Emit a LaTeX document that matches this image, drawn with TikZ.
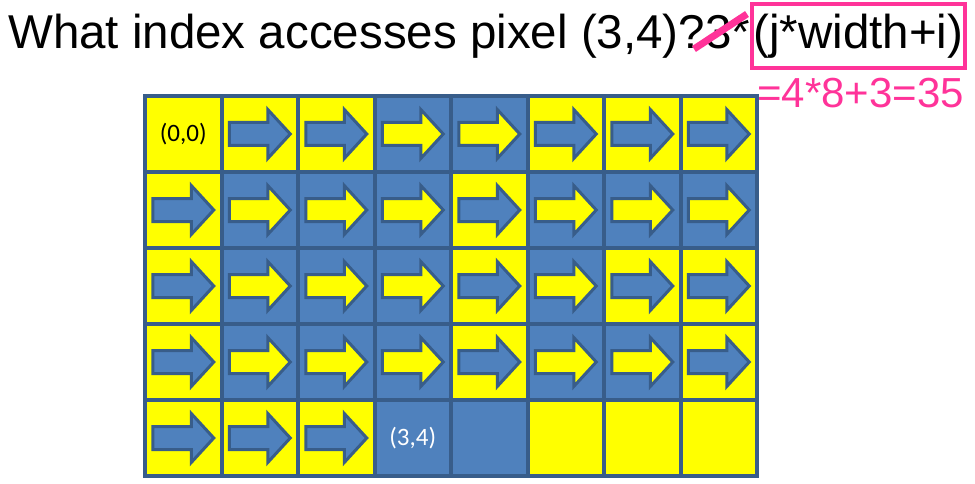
\documentclass[tikz,border=0pt]{standalone}
\usepackage{fontspec}
\setmainfont{Liberation Sans}
\newfontfamily\cellfont{Carlito}

\definecolor{cellyellow}{HTML}{FFFF00}
\definecolor{cellblue}{HTML}{4F81BD}
\definecolor{gridline}{HTML}{385D8A}
\definecolor{markpink}{HTML}{FF3399}

\tikzset{
    cell/.style={draw=gridline, line width=4pt, minimum width=76.5pt, minimum height=76pt, inner sep=0pt},
    pics/cellarrow/.style={code={
        \draw[gridline, line width=3pt, fill=#1] (-30.5,-11.5) -- (8,-11.5) -- (8,-24.5) -- (30.5,0)
            -- (8,24.5) -- (8,11.5) -- (-30.5,11.5) -- cycle;}},
    % yellow cell with blue arrow, blue cell with yellow arrow, and empty cells
    ya/.style={cell, fill=cellyellow, path picture={\pic at (path picture bounding box.center) {cellarrow=cellblue};}},
    ba/.style={cell, fill=cellblue, path picture={\pic at (path picture bounding box.center) {cellarrow=cellyellow};}},
    ye/.style={cell, fill=cellyellow},
    be/.style={cell, fill=cellblue},
}

\begin{document}
\begin{tikzpicture}[x=1pt, y=-1pt]
    \useasboundingbox (0,0) rectangle (975,484);

    % Draw the question
    \node[anchor=base west, inner sep=0pt, font=\fontsize{47.5}{50}\selectfont] (question) at (8,49) {What index accesses pixel (3,4)?3*};
    \node[anchor=north west, draw=markpink, line width=3.5pt, minimum width=213pt, minimum height=64pt, inner sep=0pt,
        font=\fontsize{47.5}{50}\selectfont] (formula) at (750,2.5) {(j*width+i)};
    \draw[markpink, line width=7pt] (694,49) -- (747,14);
    \node[anchor=base west, inner sep=0pt, text=markpink, font=\fontsize{42}{44}\selectfont] (answer) at (757,108) {=4*8+3=35};

    % Draw the pixel grid
    \foreach \r/\list in {0/{ye,ya,ya,ba,ba,ya,ya,ya}, 1/{ya,ba,ba,ba,ya,ba,ba,ba}, 2/{ya,ba,ba,ba,ya,ba,ya,ya},
                          3/{ya,ba,ba,ba,ya,ba,ba,ya}, 4/{ya,ya,ya,be,be,ye,ye,ye}}
        \foreach \k [count=\c from 0] in \list
            \node[\k] (c\c-\r) at ({145+76.5*(\c+0.5)}, {96+76*(\r+0.5)}) {};

    % Label the two pixels
    \node[font=\cellfont\fontsize{25}{27}\selectfont] at (c0-0) {(0,0)};
    \node[font=\cellfont\fontsize{25}{27}\selectfont, text=white] at (c3-4) {(3,4)};
\end{tikzpicture}
\end{document}
